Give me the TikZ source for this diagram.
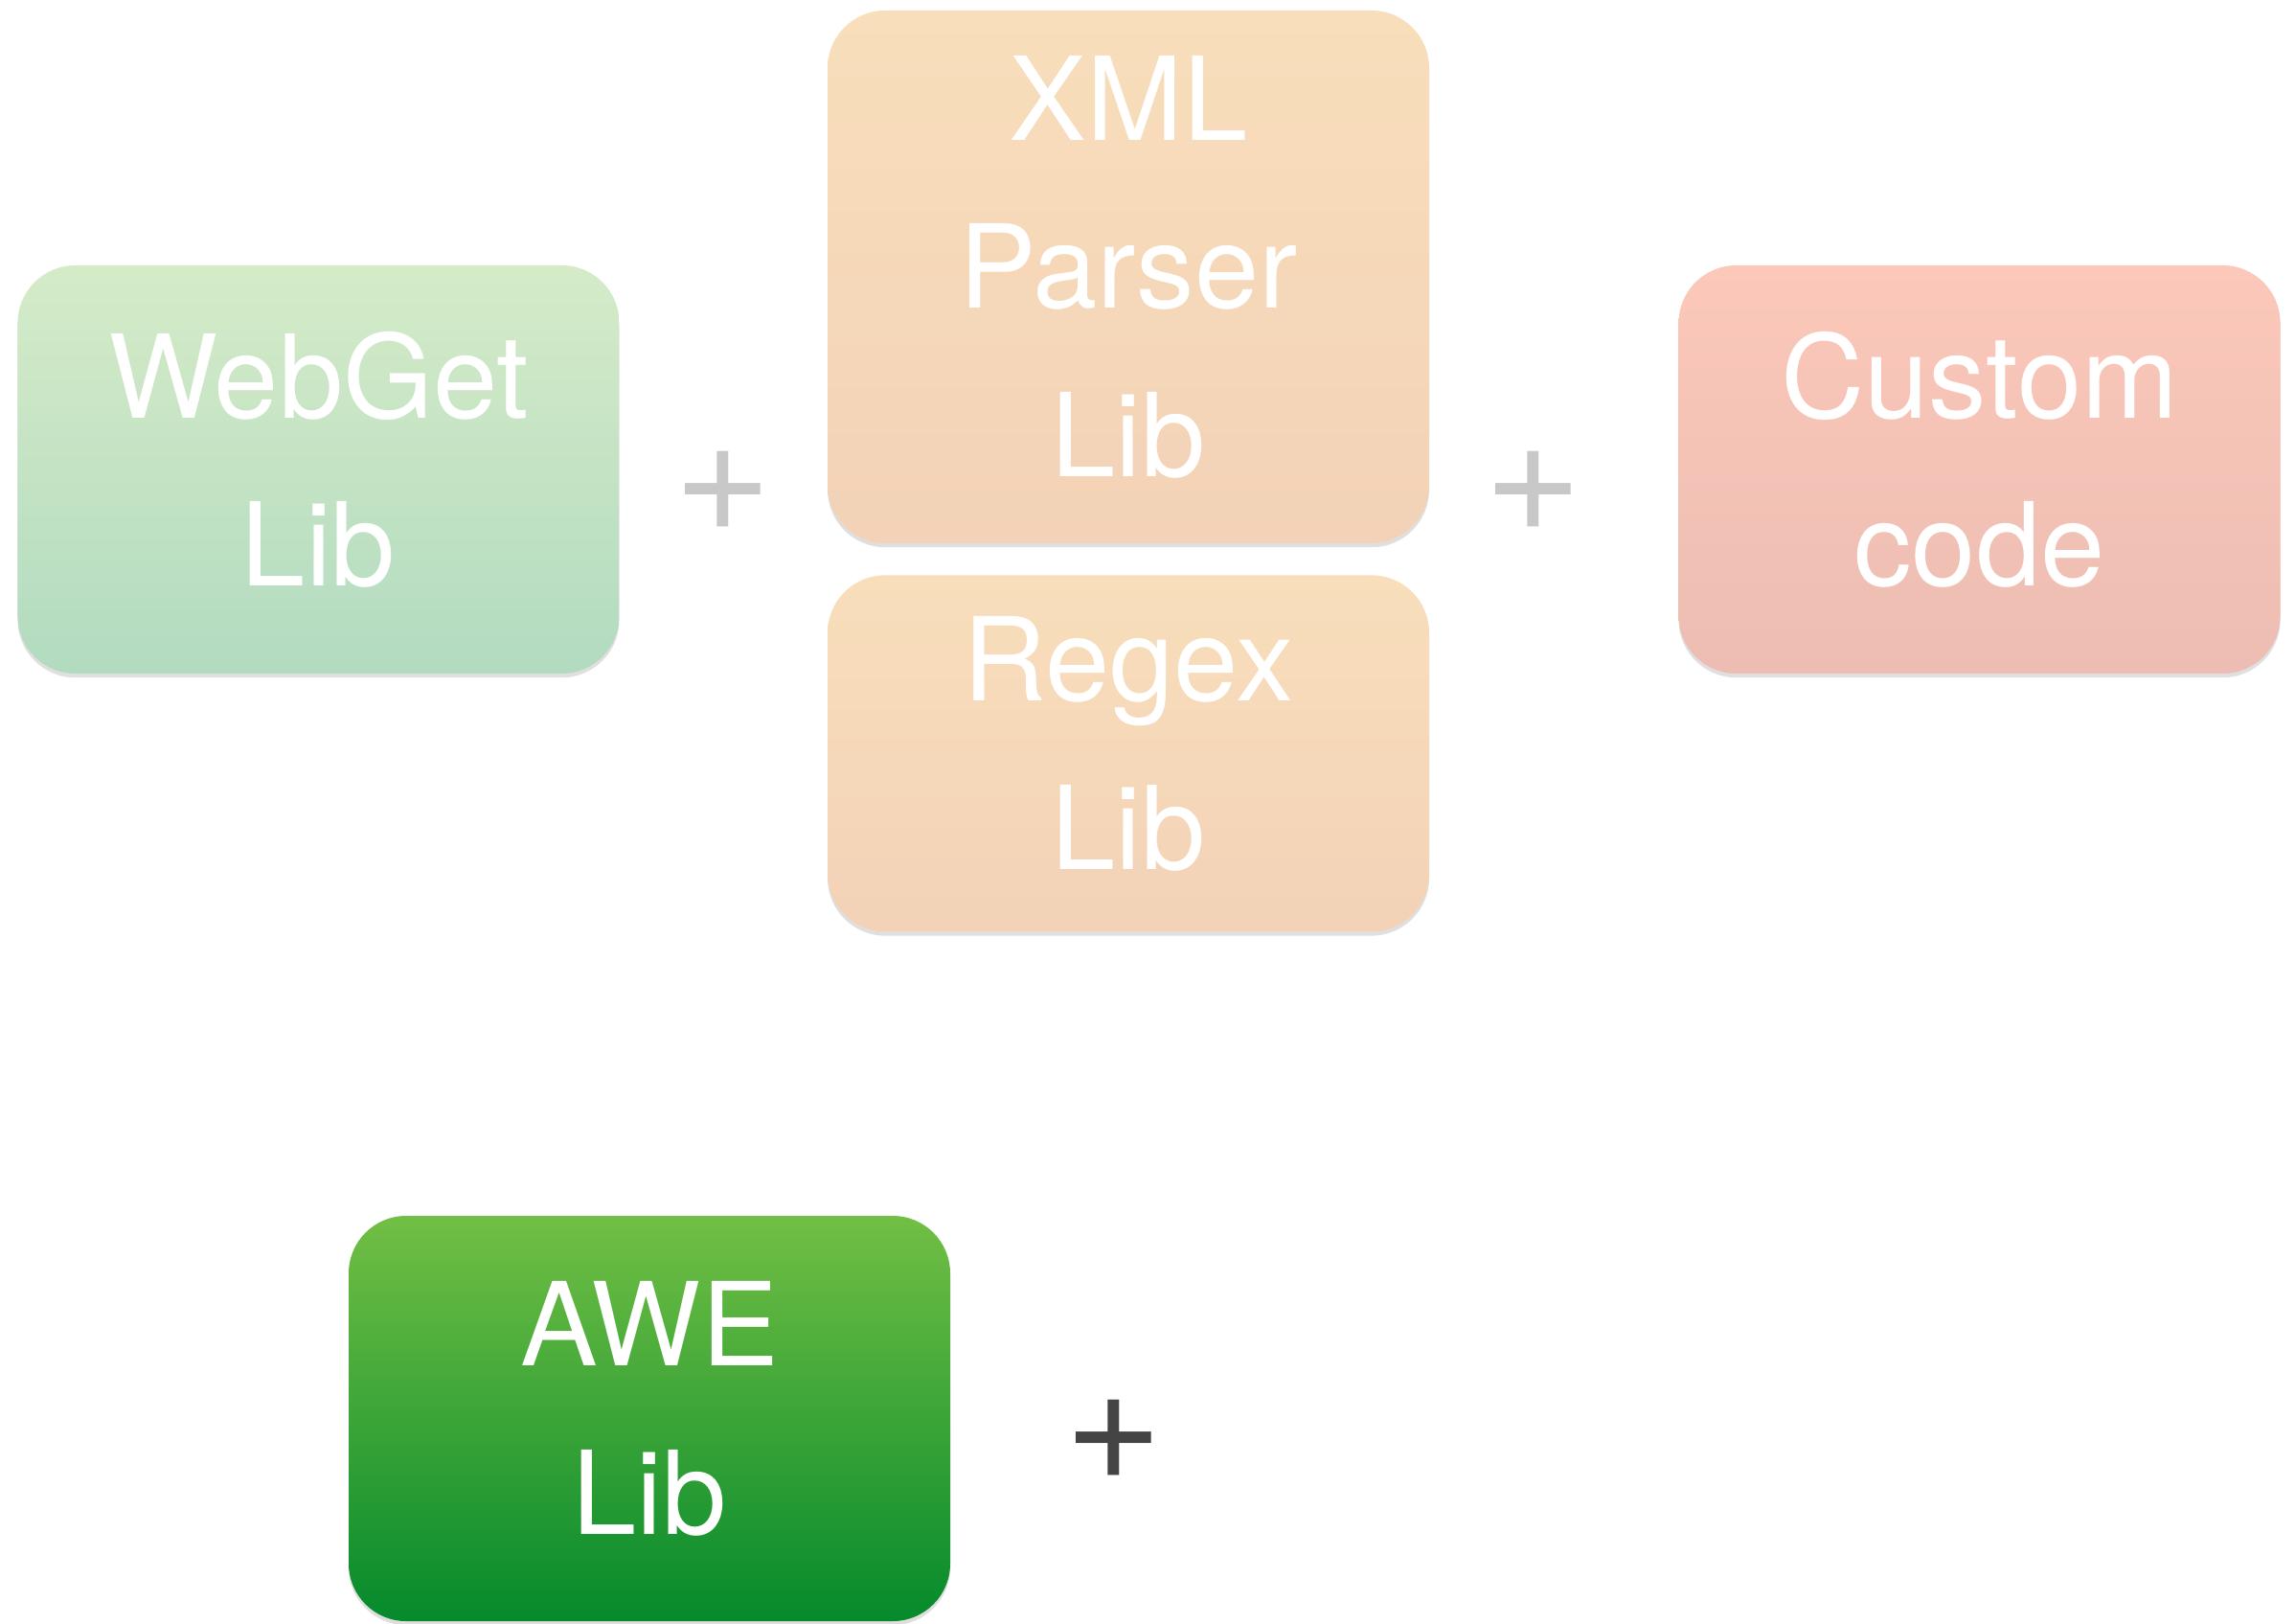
\documentclass[tikz,border=0pt]{standalone}
\usepackage{fontspec}
\setmainfont{TeX Gyre Heros}
\usepackage{tikz}
\usetikzlibrary{positioning,shadows}

\definecolor{webtop}{HTML}{D5EBC8}
\definecolor{webbot}{HTML}{B2DBC0}
\definecolor{partop}{HTML}{F8DEBB}
\definecolor{parbot}{HTML}{F3D2B7}
\definecolor{custop}{HTML}{FBC8B9}
\definecolor{cusbot}{HTML}{EDBDB3}
\definecolor{awetop}{HTML}{72BF44}
\definecolor{awebot}{HTML}{058A2C}
\definecolor{pluslight}{HTML}{C8C8C8}
\definecolor{plusdark}{HTML}{444444}

\begin{document}
\begin{tikzpicture}[
		node distance=3.2mm,
		lib/.style={rectangle, rounded corners=6mm, minimum width=62.8mm, align=center, text=white, text depth=6.3pt, font=\fontsize{34.4}{50}\selectfont, drop shadow={shadow xshift=0pt, shadow yshift=-1.2pt, opacity=0.25, fill=black!50}},
		plus/.style={inner sep=0pt, font=\fontsize{50}{50}\selectfont}
	]
		\useasboundingbox (0,0) rectangle (23.97,16.94);
		\node[lib, minimum height=42.6mm, top color=webtop, bottom color=webbot](webget) at (3.325,12.04){WebGet\\Lib};
		\node[lib, minimum height=55.6mm, top color=partop, bottom color=parbot](xml) at (11.78,14.05){XML\\Parser\\Lib};
		\node[lib, minimum height=37.2mm, top color=partop, bottom color=parbot](regex)[below=of xml]{Regex\\Lib};
		\node[lib, minimum height=42.6mm, top color=custop, bottom color=cusbot](custom) at (20.665,12.04){Custom\\code};
		\node[lib, minimum height=42.3mm, top color=awetop, bottom color=awebot](awe) at (6.78,2.135){AWE\\Lib};
		
		\node[plus, text=pluslight](plus-1) at (7.55,11.81){+};
		\node[plus, text=pluslight](plus-2) at (16.01,11.81){+};
		\node[plus, text=plusdark](plus-3) at (11.63,1.91){+};
	\end{tikzpicture}
\end{document}
